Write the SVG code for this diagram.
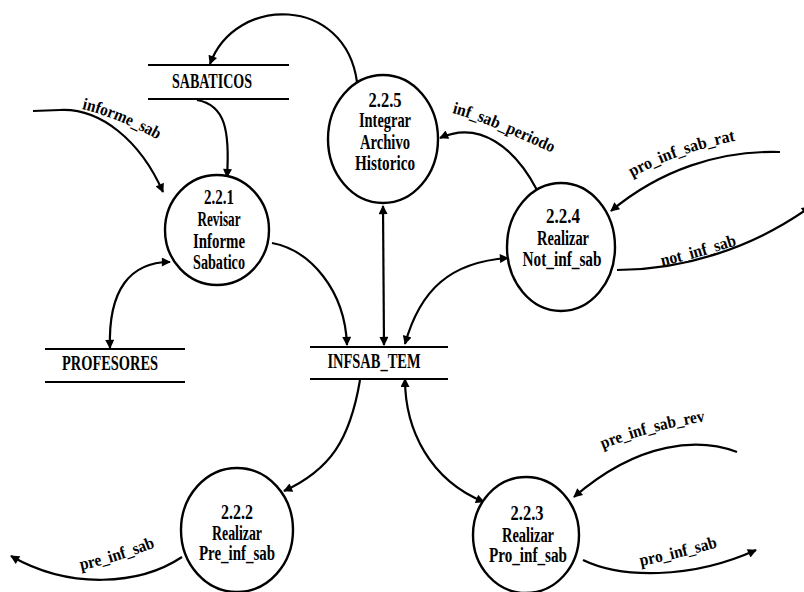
<svg xmlns="http://www.w3.org/2000/svg" width="804" height="592" viewBox="0 0 804 592">
  <style>
    .proc ellipse { fill: #fff; stroke: #000; stroke-width: 2.4; }
    .store line { stroke: #000; stroke-width: 2.2; }
    .flow { fill: none; stroke: #000; stroke-width: 2.2; }
    .t { font-family: "Liberation Serif", "Times New Roman", serif; font-weight: bold; font-size: 20px; fill: #000; text-anchor: middle; }
    .st { font-family: "Liberation Serif", "Times New Roman", serif; font-weight: bold; font-size: 21px; fill: #000; text-anchor: middle; }
    .lbl { font-family: "Liberation Serif", "Times New Roman", serif; font-weight: bold; font-size: 17px; fill: #000; }
  </style>
  <defs>
    <marker id="ah" viewBox="0 0 10 10" refX="9" refY="5" markerWidth="11" markerHeight="9" markerUnits="userSpaceOnUse" orient="auto-start-reverse">
      <path d="M0,0 L10,5 L0,10 z" fill="#000"/>
    </marker>
    <!-- baselines for the flow labels -->
    <path id="b-informe" d="M82,109 C100,113 130,124 160,141"/>
    <path id="b-periodo" d="M452,113 C480,120 510,134 553,153"/>
    <path id="b-rat" d="M632,177 C660,162 700,147 740,140"/>
    <path id="b-not" d="M662,266 C690,260 715,252 741,244"/>
    <path id="b-rev" d="M603,449 C630,438 670,426 708,421"/>
    <path id="b-pro" d="M641,566 C665,561 695,554 721,546"/>
    <path id="b-pre" d="M81,570 C105,565 130,557 158,546"/>
  </defs>

  <rect width="804" height="592" fill="#fff"/>

  <!-- data flows -->
  <g id="connectors">
    <path class="flow" d="M357,82 C345,-5 235,-5 210,64" marker-end="url(#ah)"/>
    <path class="flow" d="M197,100 C225,105 230,130 227,177" marker-end="url(#ah)"/>
    <path class="flow" d="M33,111 L60,110 C100,108 140,140 163,192" marker-end="url(#ah)"/>
    <path class="flow" d="M110,348 C108,290 130,262 170,262" marker-start="url(#ah)" marker-end="url(#ah)"/>
    <path class="flow" d="M272,243 C310,250 345,290 347,345" marker-end="url(#ah)"/>
    <path class="flow" d="M384,345 L383,206" marker-start="url(#ah)" marker-end="url(#ah)"/>
    <path class="flow" d="M405,344 C420,290 450,262 508,258" marker-start="url(#ah)" marker-end="url(#ah)"/>
    <path class="flow" d="M537,190 C515,148 480,120 440,138" marker-end="url(#ah)"/>
    <path class="flow" d="M780,152 C720,150 660,170 611,211" marker-end="url(#ah)"/>
    <path class="flow" d="M617,270 C680,270 750,250 810,207" marker-end="url(#ah)"/>
    <path class="flow" d="M360,380 C350,440 330,470 284,491" marker-end="url(#ah)"/>
    <path class="flow" d="M182,557 C140,585 70,590 11,556" marker-end="url(#ah)"/>
    <path class="flow" d="M405,379 C405,430 430,480 484,502" marker-start="url(#ah)" marker-end="url(#ah)"/>
    <path class="flow" d="M737,452 C700,438 640,440 574,497" marker-end="url(#ah)"/>
    <path class="flow" d="M583,560 C620,578 690,580 756,550" marker-end="url(#ah)"/>

    <text class="lbl"><textPath href="#b-informe" textLength="82" lengthAdjust="spacingAndGlyphs">informe_sab</textPath></text>
    <text class="lbl"><textPath href="#b-periodo" textLength="108" lengthAdjust="spacingAndGlyphs">inf_sab_periodo</textPath></text>
    <text class="lbl"><textPath href="#b-rat" textLength="110" lengthAdjust="spacingAndGlyphs">pro_inf_sab_rat</textPath></text>
    <text class="lbl"><textPath href="#b-not" textLength="78" lengthAdjust="spacingAndGlyphs">not_inf_sab</textPath></text>
    <text class="lbl"><textPath href="#b-rev" textLength="106" lengthAdjust="spacingAndGlyphs">pre_inf_sab_rev</textPath></text>
    <text class="lbl"><textPath href="#b-pro" textLength="79" lengthAdjust="spacingAndGlyphs">pro_inf_sab</textPath></text>
    <text class="lbl"><textPath href="#b-pre" textLength="78" lengthAdjust="spacingAndGlyphs">pre_inf_sab</textPath></text>
  </g>

  <!-- data stores -->
  <g id="store-sabaticos" class="store">
    <line x1="148" y1="65" x2="289" y2="65"/>
    <line x1="148" y1="99" x2="289" y2="99"/>
    <text class="st" x="212" y="88" textLength="80" lengthAdjust="spacingAndGlyphs">SABATICOS</text>
  </g>
  <g id="store-profesores" class="store">
    <line x1="45" y1="349" x2="185" y2="349"/>
    <line x1="45" y1="382" x2="185" y2="382"/>
    <text class="st" x="110" y="370" textLength="96" lengthAdjust="spacingAndGlyphs">PROFESORES</text>
  </g>
  <g id="store-infsab-tem" class="store">
    <line x1="310" y1="347" x2="448" y2="347"/>
    <line x1="310" y1="379" x2="448" y2="379"/>
    <text class="st" x="374" y="368" textLength="93" lengthAdjust="spacingAndGlyphs">INFSAB_TEM</text>
  </g>

  <!-- processes -->
  <g id="p221" class="proc">
    <ellipse cx="217" cy="230" rx="52" ry="55"/>
    <text class="t" x="219" y="204" textLength="30" lengthAdjust="spacingAndGlyphs">2.2.1</text>
    <text class="t" x="219" y="226" textLength="43" lengthAdjust="spacingAndGlyphs">Revisar</text>
    <text class="t" x="219" y="248" textLength="52" lengthAdjust="spacingAndGlyphs">Informe</text>
    <text class="t" x="219" y="269" textLength="52" lengthAdjust="spacingAndGlyphs">Sabatico</text>
  </g>
  <g id="p225" class="proc">
    <ellipse cx="383" cy="139" rx="55" ry="64"/>
    <text class="t" x="385" y="107" textLength="33" lengthAdjust="spacingAndGlyphs">2.2.5</text>
    <text class="t" x="385" y="127" textLength="52" lengthAdjust="spacingAndGlyphs">Integrar</text>
    <text class="t" x="385" y="149" textLength="50" lengthAdjust="spacingAndGlyphs">Archivo</text>
    <text class="t" x="385" y="170" textLength="60" lengthAdjust="spacingAndGlyphs">Historico</text>
  </g>
  <g id="p224" class="proc">
    <ellipse cx="561" cy="247" rx="54" ry="64"/>
    <text class="t" x="563" y="223" textLength="34" lengthAdjust="spacingAndGlyphs">2.2.4</text>
    <text class="t" x="563" y="245" textLength="52" lengthAdjust="spacingAndGlyphs">Realizar</text>
    <text class="t" x="562" y="266" textLength="79" lengthAdjust="spacingAndGlyphs">Not_inf_sab</text>
  </g>
  <g id="p222" class="proc">
    <ellipse cx="237" cy="530" rx="56" ry="62"/>
    <text class="t" x="237" y="519" textLength="32" lengthAdjust="spacingAndGlyphs">2.2.2</text>
    <text class="t" x="237" y="540" textLength="50" lengthAdjust="spacingAndGlyphs">Realizar</text>
    <text class="t" x="237" y="560" textLength="76" lengthAdjust="spacingAndGlyphs">Pre_inf_sab</text>
  </g>
  <g id="p223" class="proc">
    <ellipse cx="526" cy="535" rx="53" ry="58"/>
    <text class="t" x="527" y="520" textLength="33" lengthAdjust="spacingAndGlyphs">2.2.3</text>
    <text class="t" x="528" y="542" textLength="52" lengthAdjust="spacingAndGlyphs">Realizar</text>
    <text class="t" x="528" y="562" textLength="78" lengthAdjust="spacingAndGlyphs">Pro_inf_sab</text>
  </g>
</svg>
